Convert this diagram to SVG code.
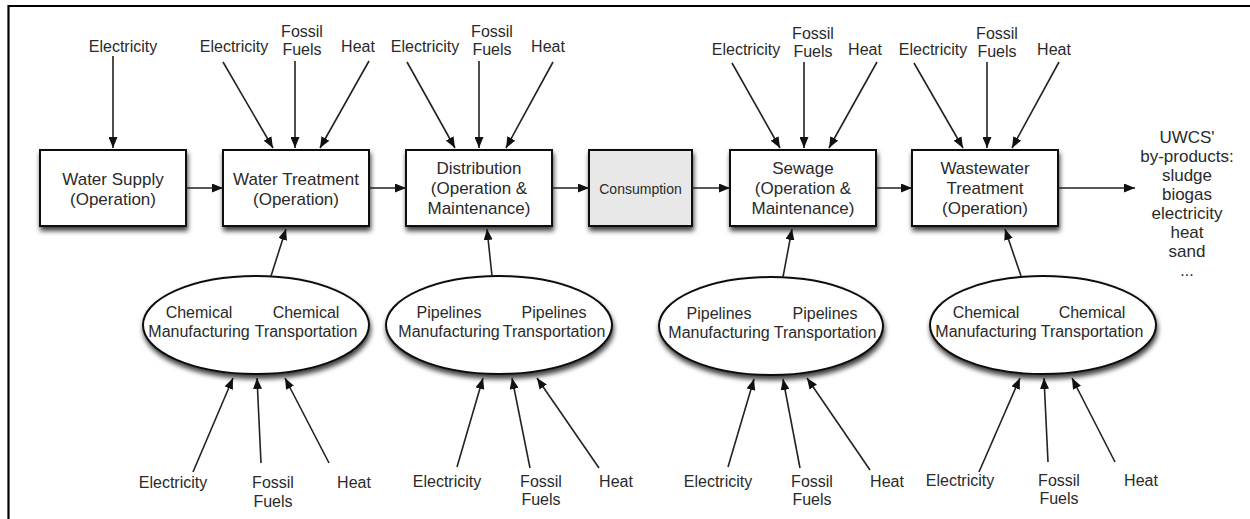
<svg xmlns="http://www.w3.org/2000/svg" width="1250" height="519" viewBox="0 0 1250 519">
  <style>
    .box { fill: #ffffff; stroke: #111; stroke-width: 2; filter: url(#shadow); }
    .grey { fill: #e8e8e8; }
    .oval { fill: #ffffff; stroke: #111; stroke-width: 2; filter: url(#shadow); }
    .t { font-family: "Liberation Sans", Arial, sans-serif; fill: #2a2a2a; text-anchor: middle; }
    .big { font-size: 17px; }
    .lab { font-size: 16px; }
    .small { font-size: 14px; }
    .edge { stroke: #222; stroke-width: 1.6; fill: none; marker-end: url(#arrow); }
    .frame { stroke: #000; stroke-width: 2.2; fill: none; }
  </style>
  <defs>
    <marker id="arrow" markerUnits="userSpaceOnUse" markerWidth="11" markerHeight="9" refX="11" refY="4.5" orient="auto">
      <path d="M0,0 L11,4.5 L0,9 z" fill="#111"/>
    </marker>
    <filter id="shadow" x="-20%" y="-20%" width="140%" height="150%">
      <feDropShadow dx="1" dy="4" stdDeviation="2.5" flood-color="#000" flood-opacity="0.75"/>
    </filter>
  </defs>

  <rect x="0" y="0" width="1250" height="519" fill="#ffffff"/>
  <!-- frame (top and left edges) -->
  <path class="frame" d="M8.5,519 L8.5,6 L1250,6"/>

  <!-- process boxes -->
  <g id="water-supply">
    <rect class="box" x="40" y="150" width="146" height="76"/>
    <text class="t big" x="113" y="185">Water Supply</text>
    <text class="t big" x="113" y="205">(Operation)</text>
  </g>
  <g id="water-treatment">
    <rect class="box" x="223" y="150" width="146" height="76"/>
    <text class="t big" x="296" y="185">Water Treatment</text>
    <text class="t big" x="296" y="205">(Operation)</text>
  </g>
  <g id="distribution">
    <rect class="box" x="406" y="150" width="146" height="76"/>
    <text class="t big" x="479" y="174">Distribution</text>
    <text class="t big" x="479" y="194">(Operation &amp;</text>
    <text class="t big" x="479" y="214">Maintenance)</text>
  </g>
  <g id="consumption">
    <rect class="box grey" x="589" y="150" width="103" height="76"/>
    <text class="t small" x="640.5" y="194">Consumption</text>
  </g>
  <g id="sewage">
    <rect class="box" x="730" y="150" width="146" height="76"/>
    <text class="t big" x="803" y="174">Sewage</text>
    <text class="t big" x="803" y="194">(Operation &amp;</text>
    <text class="t big" x="803" y="214">Maintenance)</text>
  </g>
  <g id="wastewater-treatment">
    <rect class="box" x="912" y="150" width="146" height="76"/>
    <text class="t big" x="985" y="174">Wastewater</text>
    <text class="t big" x="985" y="194">Treatment</text>
    <text class="t big" x="985" y="214">(Operation)</text>
  </g>
  <g id="by-products">
    <text class="t big" x="1187" y="143">UWCS'</text>
    <text class="t big" x="1187" y="162">by-products:</text>
    <text class="t big" x="1187" y="181">sludge</text>
    <text class="t big" x="1187" y="200">biogas</text>
    <text class="t big" x="1187" y="219">electricity</text>
    <text class="t big" x="1187" y="238">heat</text>
    <text class="t big" x="1187" y="257">sand</text>
    <text class="t lab" x="1187" y="276">...</text>
  </g>

  <!-- supply-chain ellipses -->
  <g id="chem-1">
    <ellipse class="oval" cx="256" cy="325" rx="113" ry="49"/>
    <text class="t lab" x="199" y="318">Chemical</text>
    <text class="t lab" x="199" y="337">Manufacturing</text>
    <text class="t lab" x="306" y="318">Chemical</text>
    <text class="t lab" x="306" y="337">Transportation</text>
  </g>
  <g id="pipes-1">
    <ellipse class="oval" cx="499" cy="325" rx="113" ry="49"/>
    <text class="t lab" x="449" y="318">Pipelines</text>
    <text class="t lab" x="449" y="337">Manufacturing</text>
    <text class="t lab" x="554" y="318">Pipelines</text>
    <text class="t lab" x="554" y="337">Transportation</text>
  </g>
  <g id="pipes-2">
    <ellipse class="oval" cx="771" cy="326" rx="112" ry="49"/>
    <text class="t lab" x="719" y="319">Pipelines</text>
    <text class="t lab" x="719" y="338">Manufacturing</text>
    <text class="t lab" x="825" y="319">Pipelines</text>
    <text class="t lab" x="825" y="338">Transportation</text>
  </g>
  <g id="chem-2">
    <ellipse class="oval" cx="1043" cy="325" rx="113" ry="49"/>
    <text class="t lab" x="986" y="318">Chemical</text>
    <text class="t lab" x="986" y="337">Manufacturing</text>
    <text class="t lab" x="1092" y="318">Chemical</text>
    <text class="t lab" x="1092" y="337">Transportation</text>
  </g>

  <!-- energy input labels, top -->
  <g id="inputs-top">
    <text class="t lab" x="123" y="52">Electricity</text>

    <text class="t lab" x="234" y="52">Electricity</text>
    <text class="t lab" x="302" y="37">Fossil</text>
    <text class="t lab" x="302" y="55">Fuels</text>
    <text class="t lab" x="358" y="52">Heat</text>

    <text class="t lab" x="425" y="52">Electricity</text>
    <text class="t lab" x="492" y="37">Fossil</text>
    <text class="t lab" x="492" y="55">Fuels</text>
    <text class="t lab" x="548" y="52">Heat</text>

    <text class="t lab" x="746" y="55">Electricity</text>
    <text class="t lab" x="813" y="39">Fossil</text>
    <text class="t lab" x="813" y="57">Fuels</text>
    <text class="t lab" x="865" y="55">Heat</text>

    <text class="t lab" x="933" y="55">Electricity</text>
    <text class="t lab" x="997" y="39">Fossil</text>
    <text class="t lab" x="997" y="57">Fuels</text>
    <text class="t lab" x="1054" y="55">Heat</text>
  </g>

  <!-- energy input labels, bottom -->
  <g id="inputs-bottom">
    <text class="t lab" x="173" y="488">Electricity</text>
    <text class="t lab" x="273" y="488">Fossil</text>
    <text class="t lab" x="273" y="507">Fuels</text>
    <text class="t lab" x="354" y="488">Heat</text>

    <text class="t lab" x="447" y="487">Electricity</text>
    <text class="t lab" x="541" y="487">Fossil</text>
    <text class="t lab" x="541" y="505">Fuels</text>
    <text class="t lab" x="616" y="487">Heat</text>

    <text class="t lab" x="718" y="487">Electricity</text>
    <text class="t lab" x="812" y="487">Fossil</text>
    <text class="t lab" x="812" y="505">Fuels</text>
    <text class="t lab" x="887" y="487">Heat</text>

    <text class="t lab" x="960" y="486">Electricity</text>
    <text class="t lab" x="1059" y="486">Fossil</text>
    <text class="t lab" x="1059" y="504">Fuels</text>
    <text class="t lab" x="1141" y="486">Heat</text>
  </g>

  <!-- connectors -->
  <g id="connectors">
    <!-- main chain -->
    <line class="edge" x1="186" y1="188" x2="223" y2="188"/>
    <line class="edge" x1="369" y1="188" x2="406" y2="188"/>
    <line class="edge" x1="552" y1="188" x2="589" y2="188"/>
    <line class="edge" x1="692" y1="188" x2="730" y2="188"/>
    <line class="edge" x1="876" y1="188" x2="912" y2="188"/>
    <line class="edge" x1="1058" y1="188" x2="1135" y2="188"/>

    <!-- top inputs -->
    <line class="edge" x1="113" y1="56" x2="113" y2="148"/>

    <line class="edge" x1="223" y1="62" x2="273" y2="148"/>
    <line class="edge" x1="295" y1="61" x2="295" y2="148"/>
    <line class="edge" x1="369" y1="61" x2="320" y2="148"/>

    <line class="edge" x1="407" y1="62" x2="455" y2="148"/>
    <line class="edge" x1="479" y1="61" x2="479" y2="148"/>
    <line class="edge" x1="553" y1="62" x2="506" y2="148"/>

    <line class="edge" x1="732" y1="63" x2="780" y2="148"/>
    <line class="edge" x1="804" y1="62" x2="804" y2="148"/>
    <line class="edge" x1="877" y1="62" x2="829" y2="148"/>

    <line class="edge" x1="914" y1="63" x2="963" y2="148"/>
    <line class="edge" x1="987" y1="62" x2="987" y2="148"/>
    <line class="edge" x1="1059" y1="62" x2="1012" y2="148"/>

    <!-- ellipses to boxes -->
    <line class="edge" x1="271" y1="276" x2="286" y2="229"/>
    <line class="edge" x1="492" y1="276" x2="487" y2="229"/>
    <line class="edge" x1="783" y1="277" x2="792" y2="229"/>
    <line class="edge" x1="1021" y1="276" x2="1005" y2="229"/>

    <!-- bottom inputs -->
    <line class="edge" x1="193" y1="472" x2="233" y2="378"/>
    <line class="edge" x1="261" y1="463" x2="257" y2="378"/>
    <line class="edge" x1="329" y1="463" x2="285" y2="378"/>

    <line class="edge" x1="457" y1="467" x2="483" y2="378"/>
    <line class="edge" x1="530" y1="468" x2="512" y2="378"/>
    <line class="edge" x1="599" y1="468" x2="537" y2="378"/>

    <line class="edge" x1="728" y1="467" x2="754" y2="379"/>
    <line class="edge" x1="800" y1="468" x2="783" y2="379"/>
    <line class="edge" x1="870" y1="470" x2="807" y2="378"/>

    <line class="edge" x1="979" y1="472" x2="1020" y2="378"/>
    <line class="edge" x1="1048" y1="462" x2="1044" y2="378"/>
    <line class="edge" x1="1115" y1="462" x2="1072" y2="378"/>
  </g>
</svg>
